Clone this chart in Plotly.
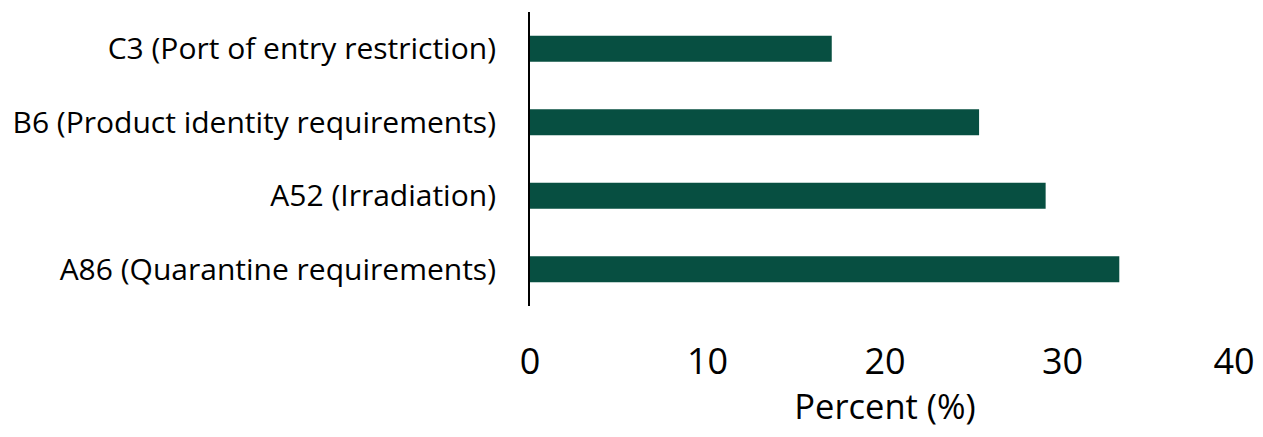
import plotly.graph_objects as go

categories = [
    "C3 (Port of entry restriction)",
    "B6 (Product identity requirements)",
    "A52 (Irradiation)",
    "A86 (Quarantine requirements)",
]
percent_values = [17.0, 25.3, 29.05, 33.2]
x_tick_values = [0, 10, 20, 30, 40]
x_tick_labels = ["0", "10", "20", "30", "40"]

fig = go.Figure()
fig.add_trace(
    go.Bar(
        x=percent_values,
        y=categories,
        orientation="h",
        marker=dict(color="#074F41", line=dict(width=0)),
        hoverinfo="x+y",
    )
)
# invisible companion trace so that the overlay axis (carrying the last tick label) exists
fig.add_trace(
    go.Scatter(
        x=percent_values,
        y=categories,
        xaxis="x2",
        mode="markers",
        marker=dict(opacity=0),
        hoverinfo="skip",
    )
)

# the page body adds an 8px margin on every side, so the figure is sized
# and offset to fit the 1263x437 window
fig.update_layout(
    width=1255,
    height=421,
    margin=dict(l=522, r=23, t=4, b=123, autoexpand=False),
    paper_bgcolor="white",
    plot_bgcolor="white",
    bargap=0.646,
    showlegend=False,
    font=dict(family="Open Sans", color="#000000"),
)

common_x = dict(
    range=[0, 40],
    showgrid=False,
    zeroline=False,
    showline=False,
    ticks="",
    tickfont=dict(size=36, family="Open Sans", color="#000000"),
    ticklabelstandoff=31,
    automargin=False,
)

fig.update_layout(
    xaxis=dict(
        **common_x,
        tickvals=x_tick_values[:-1],
        ticktext=x_tick_labels[:-1],
        title=dict(text="Percent (%)", font=dict(size=34.5, family="Open Sans"), standoff=18),
    ),
    xaxis2=dict(
        **common_x,
        overlaying="x",
        anchor="y",
        side="bottom",
        tickvals=x_tick_values[-1:],
        ticktext=x_tick_labels[-1:],
        ticklabelshift=-6,
    ),
)

fig.update_yaxes(
    categoryorder="array",
    categoryarray=categories,
    autorange="reversed",
    showgrid=False,
    zeroline=False,
    showline=True,
    linecolor="#000000",
    linewidth=2,
    ticks="",
    automargin=False,
    tickfont=dict(size=30, family="Open Sans"),
    ticklabelstandoff=26,
)

fig.write_html("out.html")
